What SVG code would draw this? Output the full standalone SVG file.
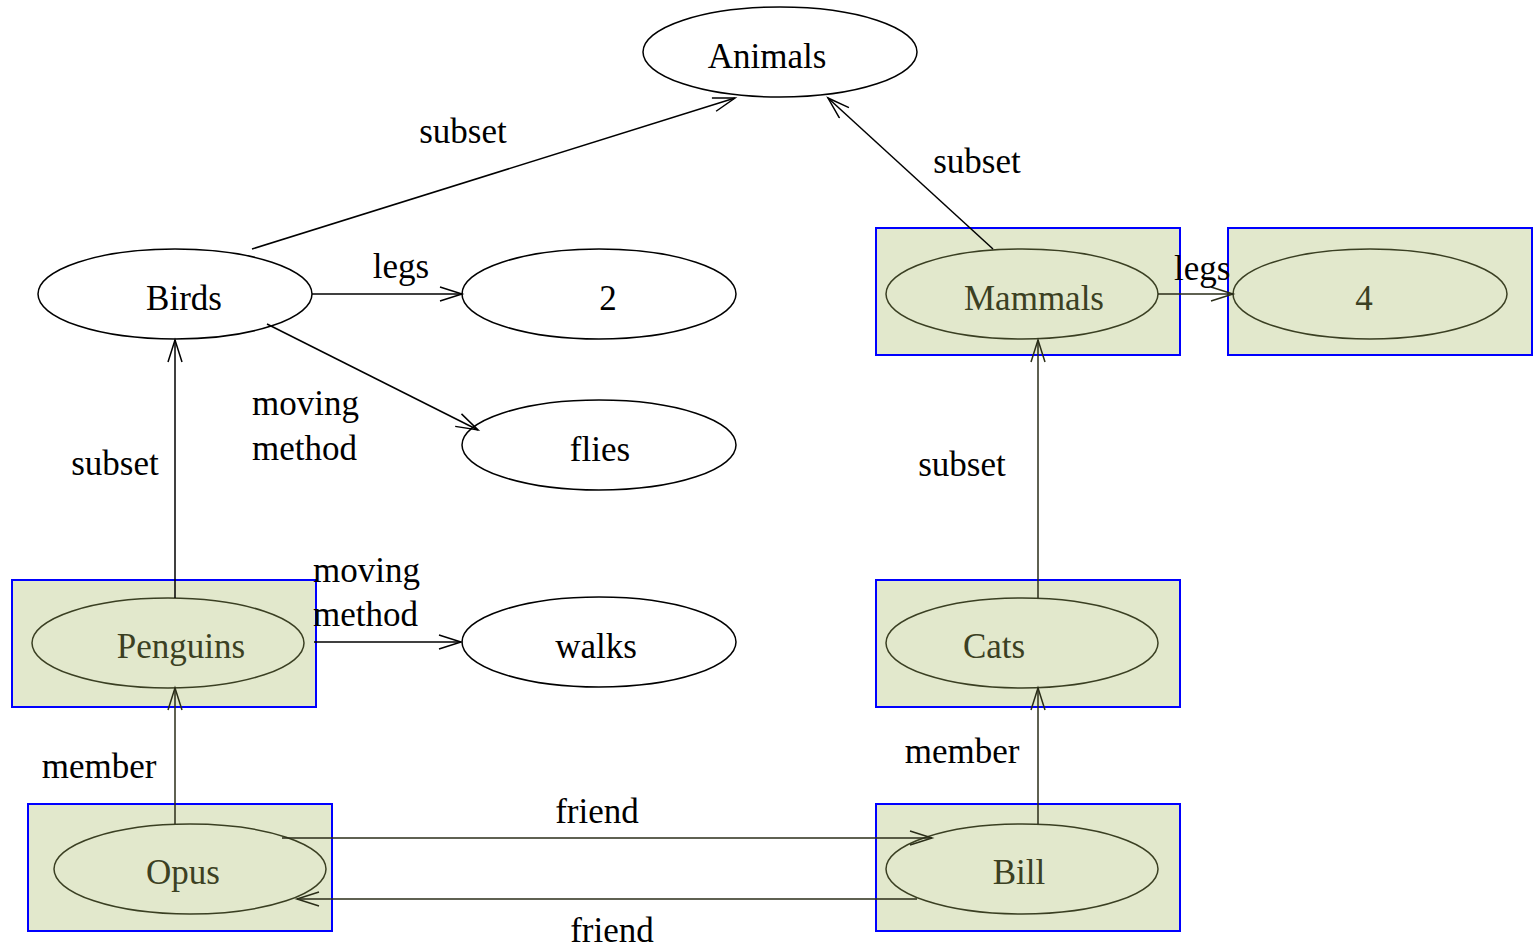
<svg xmlns="http://www.w3.org/2000/svg" width="1534" height="950" viewBox="0 0 1534 950">
<defs>
<marker id="arr" markerUnits="userSpaceOnUse" markerWidth="30" markerHeight="20" refX="24" refY="8" orient="auto">
<path d="M2,1 L24,8 L2,15" fill="none" stroke="#000" stroke-width="1.5"/>
</marker>
<marker id="arrd" markerUnits="userSpaceOnUse" markerWidth="30" markerHeight="20" refX="24" refY="8" orient="auto">
<path d="M2,1 L24,8 L2,15" fill="none" stroke="#2a2d18" stroke-width="1.5"/>
</marker>
</defs>
<style>
text{font-family:"Liberation Serif","Times New Roman",serif;font-size:35px;fill:#000}
.e{fill:#fff;stroke:#000;stroke-width:1.5}
.box{fill:#e2e8cc;stroke:#0000ff;stroke-width:2}
.eh{fill:#e2e8cc;stroke:#3a3f22;stroke-width:1.5}
.th{fill:#3b4022}
.c{text-anchor:middle}
.ln{stroke:#000;stroke-width:1.5;fill:none;marker-end:url(#arr)}
.lnd{stroke:#2a2d18;stroke-width:1.5;fill:none;marker-end:url(#arrd)}
</style>
<g id="nodes">
<g id="animals"><ellipse class="e" cx="780" cy="52" rx="137" ry="45"/><text class="c" x="767" y="68">Animals</text></g>
<g id="birds"><ellipse class="e" cx="175" cy="294" rx="137" ry="45"/><text class="c" x="184" y="310">Birds</text></g>
<g id="two"><ellipse class="e" cx="599" cy="294" rx="137" ry="45"/><text class="c" x="608" y="310">2</text></g>
<g id="flies"><ellipse class="e" cx="599" cy="445" rx="137" ry="45"/><text class="c" x="600" y="461">flies</text></g>
<g id="walks"><ellipse class="e" cx="599" cy="642" rx="137" ry="45"/><text class="c" x="596" y="658">walks</text></g>
<g id="mammals"><rect class="box" x="876" y="228" width="304" height="127"/><ellipse class="eh" cx="1022" cy="294" rx="136" ry="45"/><text class="c th" x="1034" y="310">Mammals</text></g>
<g id="four"><rect class="box" x="1228" y="228" width="304" height="127"/><ellipse class="eh" cx="1370" cy="294" rx="137" ry="45"/><text class="c th" x="1364" y="310">4</text></g>
<g id="penguins"><rect class="box" x="12" y="580" width="304" height="127"/><ellipse class="eh" cx="168" cy="643" rx="136" ry="45"/><text class="c th" x="181" y="658">Penguins</text></g>
<g id="cats"><rect class="box" x="876" y="580" width="304" height="127"/><ellipse class="eh" cx="1022" cy="643" rx="136" ry="45"/><text class="c th" x="994" y="658">Cats</text></g>
<g id="opus"><rect class="box" x="28" y="804" width="304" height="127"/><ellipse class="eh" cx="190" cy="869" rx="136" ry="45"/><text class="c th" x="183" y="884">Opus</text></g>
<g id="bill"><rect class="box" x="876" y="804" width="304" height="127"/><ellipse class="eh" cx="1022" cy="869" rx="136" ry="45"/><text class="c th" x="1019" y="884">Bill</text></g>
</g>
<g id="connectors">
<line class="ln" x1="252" y1="249" x2="735" y2="98"/>
<line class="ln" x1="993" y1="249" x2="828" y2="98"/>
<line class="ln" x1="312" y1="294" x2="462" y2="294"/>
<line class="ln" x1="267" y1="324" x2="478" y2="430"/>
<line class="ln" x1="175" y1="598" x2="175" y2="340"/>
<line class="ln" x1="314" y1="642" x2="461" y2="642"/>
<line class="lnd" x1="1038" y1="598" x2="1038" y2="340"/>
<line class="lnd" x1="1158" y1="294" x2="1233" y2="294"/>
<line class="lnd" x1="175" y1="824" x2="175" y2="688"/>
<line class="lnd" x1="1038" y1="824" x2="1038" y2="688"/>
<line class="lnd" x1="282" y1="838" x2="932" y2="838"/>
<line class="lnd" x1="917" y1="899" x2="297" y2="899"/>
</g>
<g id="labels">
<text class="c" x="463" y="143">subset</text>
<text class="c" x="977" y="173">subset</text>
<text class="c" x="401" y="278">legs</text>
<text x="252" y="415">moving</text>
<text x="252" y="460">method</text>
<text class="c" x="115" y="475">subset</text>
<text class="c" x="962" y="476">subset</text>
<text x="313" y="582">moving</text>
<text x="313" y="626">method</text>
<text x="1174" y="280">legs</text>
<text class="c" x="99" y="778">member</text>
<text class="c" x="962" y="763">member</text>
<text class="c" x="597" y="823">friend</text>
<text class="c" x="612" y="942">friend</text>
</g>
</svg>
